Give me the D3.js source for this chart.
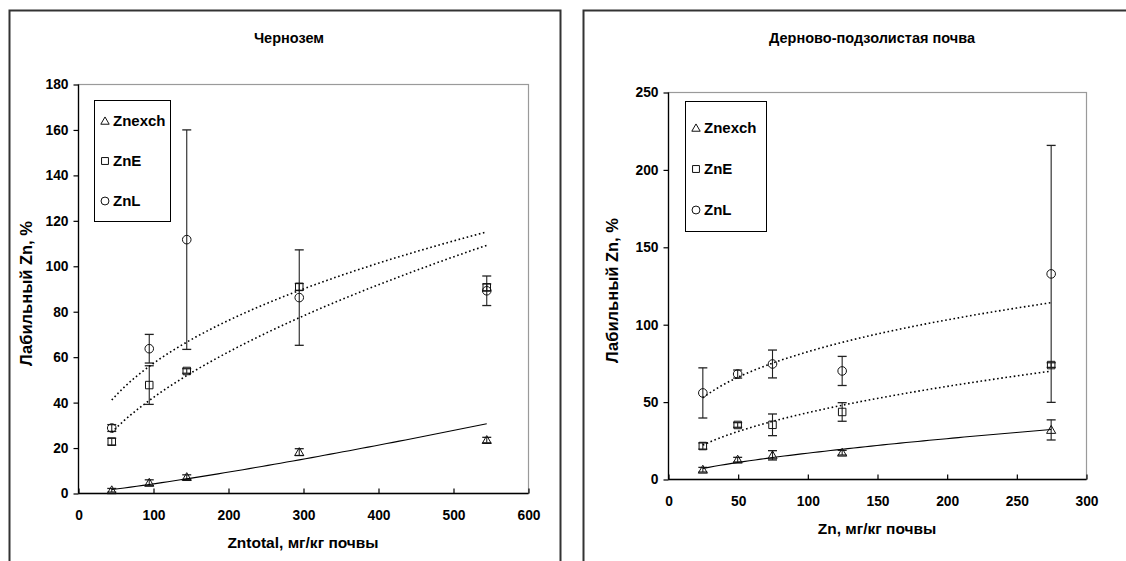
<!DOCTYPE html>
<html>
<head>
<meta charset="utf-8">
<script src="https://cdn.jsdelivr.net/npm/d3@7"></script>
<style>
  html, body { margin: 0; padding: 0; background: #fff; }
  svg { display: block; font-family: "Liberation Sans", Arial, sans-serif; }
</style>
</head>
<body>
<svg id="chart" width="1126" height="561"></svg>
<script>
// ---- Чернозем ----
const chernTitle = "Чернозем";
const chernXTitle = "Zntotal, мг/кг почвы";
const chernX = [45, 95, 145, 295, 545];
const chernExch = [1.2, 4.5, 7.0, 18.0, 23.3];
const chernExchErr = [0.8, 1.3, 1.0, 1.5, 1.2];
const chernE = [22.6, 47.5, 53.7, 90.7, 90.5];
const chernEErr = [1.5, 8.5, 1.0, 1.5, 1.5];
const chernL = [28.6, 63.5, 111.5, 86.0, 89.0];
const chernLErr = [1.5, 6.3, 48.3, 21.0, 6.5];
const chernXTicks = [0, 100, 200, 300, 400, 500, 600];
const chernYTicks = [0, 20, 40, 60, 80, 100, 120, 140, 160, 180];

// ---- Дерново-подзолистая почва ----
const sodTitle = "Дерново-подзолистая почва";
const sodXTitle = "Zn, мг/кг почвы";
const sodX = [25, 50, 75, 125, 275];
const sodExch = [6.0, 12.5, 15.3, 17.0, 31.7];
const sodExchErr = [1.5, 1.5, 3.0, 1.5, 6.5];
const sodE = [21.3, 34.9, 35.0, 43.3, 73.6];
const sodEErr = [2.0, 1.5, 7.0, 6.0, 1.5];
const sodL = [55.6, 67.8, 74.3, 69.8, 132.5];
const sodLErr = [16.2, 2.6, 9.0, 9.4, 83.0];
const sodXTicks = [0, 50, 100, 150, 200, 250, 300];
const sodYTicks = [0, 50, 100, 150, 200, 250];

const seriesNames = ["Znexch", "ZnE", "ZnL"];
const yTitle = "Лабильный Zn, %";

const svg = d3.select("#chart");
svg.append("rect").attr("width", 1126).attr("height", 561).attr("fill", "#fff");

// panel frames (chart areas)
svg.append("path")
  .attr("d", "M9.5,561 V10.5 H560.5 V561")
  .attr("fill", "none").attr("stroke", "#333").attr("stroke-width", 2);
svg.append("path")
  .attr("d", "M583.5,561 V10.5 H1126")
  .attr("fill", "none").attr("stroke", "#333").attr("stroke-width", 2);

// least-squares power trend y = a * x^b (fitted in log space)
function powerFit(xs, ys) {
  const lx = xs.map(Math.log), ly = ys.map(Math.log);
  const mx = d3.mean(lx), my = d3.mean(ly);
  let sxy = 0, sxx = 0;
  lx.forEach((v, i) => { sxy += (v - mx) * (ly[i] - my); sxx += (v - mx) * (v - mx); });
  const b = sxy / sxx;
  const a = Math.exp(my - b * mx);
  return x => a * Math.pow(x, b);
}

const symbols = [d3.symbolTriangle, d3.symbolSquare, d3.symbolCircle];
const symbolSizes = [36, 56, 58];
const trendDash = [null, "1.6,2.6", "1.6,2.6"];

function drawPanel(p) {
  const x = d3.scaleLinear().domain(p.xDomain).range([p.left, p.right]);
  const y = d3.scaleLinear().domain(p.yDomain).range([p.bottom, p.top]);
  const g = svg.append("g");

  // plot area border
  g.append("rect")
    .attr("x", p.left + 0.5).attr("y", p.top + 0.5)
    .attr("width", p.right - p.left).attr("height", p.bottom - p.top)
    .attr("fill", "none").attr("stroke", "#9a9a9a").attr("stroke-width", 1.2);

  // axes
  const xAxis = d3.axisBottom(x).tickValues(p.xTicks).tickSize(-5).tickPadding(17).tickFormat(d3.format("d"));
  const yAxis = d3.axisLeft(y).tickValues(p.yTicks).tickSize(5).tickPadding(5).tickFormat(d3.format("d"));
  const gx = g.append("g").attr("transform", `translate(0.5,${p.bottom + 0.5})`).call(xAxis);
  const gy = g.append("g").attr("transform", `translate(${p.left + 0.5},0.5)`).call(yAxis);
  [gx, gy].forEach(a => {
    a.select(".domain").attr("stroke", "#000").attr("stroke-width", 1.3);
    a.selectAll(".tick line").attr("stroke", "#000").attr("stroke-width", 1.2);
    a.selectAll(".tick text").attr("fill", "#000")
      .style("font-family", "'Liberation Sans', Arial, sans-serif")
      .style("font-weight", "bold").style("font-size", "13.8px");
  });
  gx.select(".domain").attr("d", `M${p.left},0H${p.right}`);
  gy.select(".domain").attr("d", `M0,${p.bottom}V${p.top}`);

  // titles
  g.append("text").attr("x", p.titleX).attr("y", 43).attr("text-anchor", "middle")
    .style("font-weight", "bold").style("font-size", "14.5px").text(p.title);
  g.append("text").attr("x", (p.left + p.right) / 2).attr("y", p.bottom + 55).attr("text-anchor", "middle")
    .style("font-weight", "bold").style("font-size", "15.5px").text(p.xTitle);
  g.append("text")
    .attr("transform", `translate(${p.yTitleX},${(p.top + p.bottom) / 2 + 5}) rotate(-90)`)
    .attr("text-anchor", "middle")
    .style("font-weight", "bold").style("font-size", "16.5px").text(yTitle);

  // error bars
  p.series.forEach(s => {
    s.values.forEach((v, i) => {
      const cx = x(p.xs[i]);
      const y1 = y(v - s.err[i]), y2 = y(v + s.err[i]);
      g.append("line").attr("x1", cx).attr("x2", cx).attr("y1", y1).attr("y2", y2)
        .attr("stroke", "#222").attr("stroke-width", 1.1);
      [y1, y2].forEach(yy => g.append("line")
        .attr("x1", cx - 4.5).attr("x2", cx + 4.5).attr("y1", yy).attr("y2", yy)
        .attr("stroke", "#222").attr("stroke-width", 1.3));
    });
  });

  // power trend lines
  p.series.forEach((s, k) => {
    const f = powerFit(p.xs, s.values);
    const x0 = d3.min(p.xs), x1 = d3.max(p.xs);
    const pts = d3.range(0, 61).map(i => x0 + (x1 - x0) * i / 60);
    g.append("path")
      .attr("d", d3.line().x(d => x(d)).y(d => y(f(d)))(pts))
      .attr("fill", "none").attr("stroke", "#000").attr("stroke-width", k === 0 ? 1.1 : 1.6)
      .attr("stroke-dasharray", trendDash[k]);
  });

  // markers
  p.series.forEach((s, k) => {
    const sym = d3.symbol().type(symbols[k]).size(symbolSizes[k]);
    s.values.forEach((v, i) => {
      g.append("path").attr("d", sym())
        .attr("transform", `translate(${x(p.xs[i])},${y(v) + (k === 0 ? 0.8 : 0)})`)
        .attr("fill", "none").attr("stroke", "#111").attr("stroke-width", 1);
    });
  });

  // legend
  const L = p.legend;
  g.append("rect").attr("x", L.x + 0.5).attr("y", L.y + 0.5).attr("width", L.w).attr("height", L.h)
    .attr("fill", "#fff").attr("stroke", "#000").attr("stroke-width", 1);
  seriesNames.forEach((name, k) => {
    const ly = L.y + L.first + k * L.step;
    g.append("path").attr("d", d3.symbol().type(symbols[k]).size(symbolSizes[k] * 0.85)())
      .attr("transform", `translate(${L.x + 11},${ly - 5 + (k === 0 ? 0.8 : 0)})`)
      .attr("fill", "none").attr("stroke", "#111").attr("stroke-width", 1);
    g.append("text").attr("x", L.x + 19).attr("y", ly)
      .style("font-weight", "bold").style("font-size", "15px").text(name);
  });
}

drawPanel({
  title: chernTitle, xTitle: chernXTitle, titleX: 289,
  left: 78, right: 528, top: 84, bottom: 493, yTitleX: 32,
  xDomain: [0, 600], yDomain: [0, 180], xTicks: chernXTicks, yTicks: chernYTicks,
  xs: chernX,
  series: [
    { values: chernExch, err: chernExchErr },
    { values: chernE, err: chernEErr },
    { values: chernL, err: chernLErr }
  ],
  legend: { x: 94, y: 100, w: 76, h: 121, first: 26, step: 40 }
});

drawPanel({
  title: sodTitle, xTitle: sodXTitle, titleX: 872,
  left: 668, right: 1086, top: 92, bottom: 479, yTitleX: 618,
  xDomain: [0, 300], yDomain: [0, 250], xTicks: sodXTicks, yTicks: sodYTicks,
  xs: sodX,
  series: [
    { values: sodExch, err: sodExchErr },
    { values: sodE, err: sodEErr },
    { values: sodL, err: sodLErr }
  ],
  legend: { x: 685, y: 101, w: 81, h: 130, first: 32, step: 41 }
});
</script>
</body>
</html>
